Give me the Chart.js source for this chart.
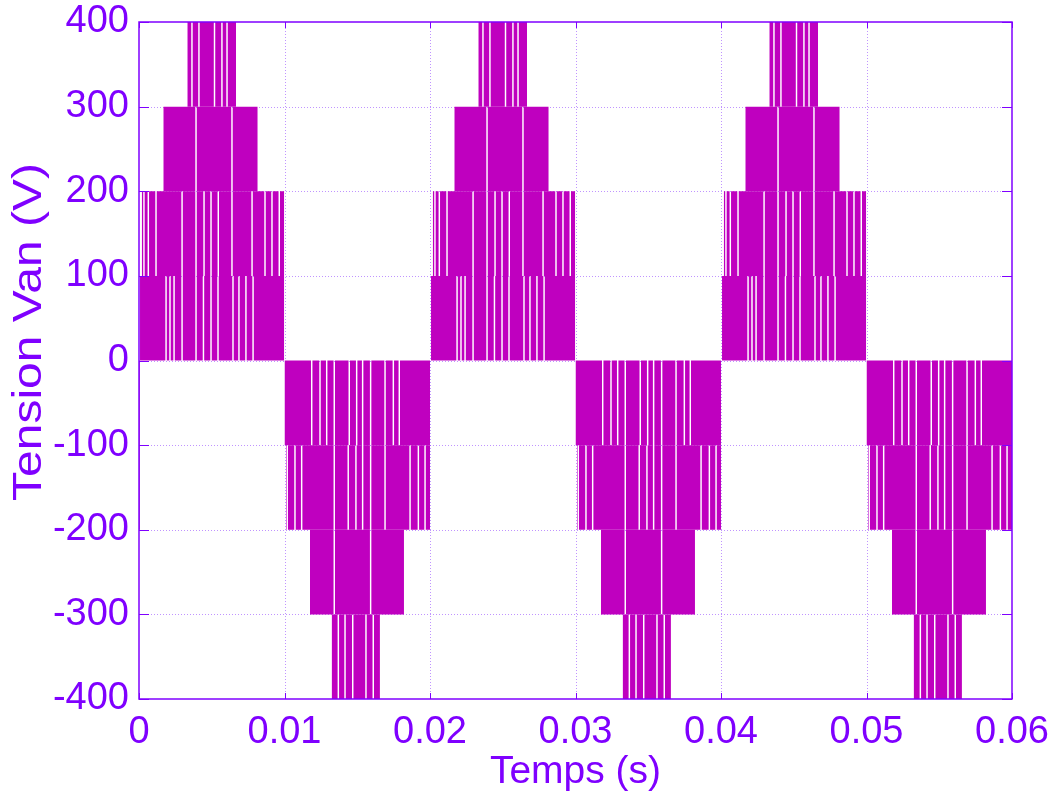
<!DOCTYPE html>
<html>
<head>
<meta charset="utf-8">
<script src="https://cdn.jsdelivr.net/npm/chart.js@4.4.1/dist/chart.umd.min.js"></script>
<style>
  html, body { margin: 0; padding: 0; background: #fff; }
  #wrap { width: 1054px; height: 798px; }
</style>
</head>
<body>
<div id="wrap"><canvas id="c" width="1054" height="798"></canvas></div>
<script>
// three periods of 0.02 s, each: positive half then negative half
const periodStarts = [0, 0.02, 0.04];
const halfPeriod = 0.01;
const levels = [0, 100, 200, 300, 400];

// positive half-cycle, times in ms after the half-cycle start
// band k switches between levels[k] and levels[k+1]
const posBandStart = [0.07, 0.19, 1.67, 3.32];
const posBandEnd = [9.98, 9.98, 8.16, 6.67];
const posGaps = [
  [1.86, 2.13, 2.41, 2.96, 3.92, 4.43, 4.95, 5.43, 6.46, 6.87, 7.35, 7.84],
  [0.34, 0.64, 1.17, 2.96, 3.92, 4.47, 4.95, 5.45, 6.39, 7.77, 8.66, 9.14, 9.64],
  [3.92, 6.39],
  [3.64, 4.12, 5.19, 5.70, 6.05]
];

// negative half-cycle, same layout (levels mirrored)
const negBandStart = [0.0, 0.1, 1.75, 3.24];
const negBandEnd = [10.0, 10.0, 8.21, 6.56];
const negGaps = [
  [1.87, 2.44, 2.90, 3.42, 4.45, 4.96, 5.37, 5.92, 6.91, 7.48, 7.89],
  [0.19, 0.72, 1.18, 3.42, 4.38, 4.91, 5.37, 5.92, 6.91, 8.63, 9.20, 9.66],
  [3.42, 5.92],
  [3.70, 4.16, 4.69, 5.60, 6.10]
];
const gapWidth = 0.1; // ms

// start-up spike at t = 0
const spikeX = [0, 0];
const spikeY = [0, -200];

const xTicks = [0, 0.01, 0.02, 0.03, 0.04, 0.05, 0.06];
const xTickLabels = ['0', '0.01', '0.02', '0.03', '0.04', '0.05', '0.06'];
const yTicks = [-400, -300, -200, -100, 0, 100, 200, 300, 400];
const yTitle = 'Tension Van (V)';

const wave = '#bf00bf';
const ink = '#7f00ff';
const gridColor = 'rgba(140,60,255,0.55)';
const family = '"Liberation Sans", Arial, sans-serif';

function bandPoints(t0, start, end, gaps, hi, lo) {
  const pts = [];
  const s = ms => t0 + ms / 1000;
  pts.push({ x: s(start), y: hi });
  gaps.forEach(g => {
    const a = g - gapWidth / 2, b = g + gapWidth / 2;
    pts.push({ x: s(a), y: hi }, { x: s(a), y: lo }, { x: s(b), y: lo }, { x: s(b), y: hi });
  });
  pts.push({ x: s(end), y: hi });
  return pts;
}

const datasets = [];
periodStarts.forEach(p => {
  for (let k = 0; k < 4; k++) {
    datasets.push({
      data: bandPoints(p, posBandStart[k], posBandEnd[k], posGaps[k], levels[k + 1], levels[k]),
      fill: { value: levels[k] },
      backgroundColor: wave,
      borderColor: 'rgba(0,0,0,0)',
      borderWidth: 0
    });
    datasets.push({
      data: bandPoints(p + halfPeriod, negBandStart[k], negBandEnd[k], negGaps[k], -levels[k + 1], -levels[k]),
      fill: { value: -levels[k] },
      backgroundColor: wave,
      borderColor: 'rgba(0,0,0,0)',
      borderWidth: 0
    });
  }
});
datasets.push({
  data: spikeX.map((x, i) => ({ x, y: spikeY[i] })),
  fill: false,
  borderColor: wave,
  borderWidth: 1.5
});

// MATLAB style frame: dotted grid under data, box and inward ticks on top
const framePlugin = {
  id: 'frame',
  beforeDatasetsDraw(chart) {
    const { ctx, chartArea: a, scales: { x, y } } = chart;
    ctx.save();
    ctx.strokeStyle = gridColor;
    ctx.lineWidth = 1;
    ctx.setLineDash([1, 2]);
    xTicks.slice(1, -1).forEach(v => {
      const px = Math.round(x.getPixelForValue(v)) + 0.5;
      ctx.beginPath(); ctx.moveTo(px, a.top); ctx.lineTo(px, a.bottom); ctx.stroke();
    });
    yTicks.slice(1, -1).forEach(v => {
      const py = Math.round(y.getPixelForValue(v)) + 0.5;
      ctx.beginPath(); ctx.moveTo(a.left, py); ctx.lineTo(a.right, py); ctx.stroke();
    });
    ctx.restore();
  },
  afterDatasetsDraw(chart) {
    const { ctx, chartArea: a, scales: { x, y } } = chart;
    ctx.save();
    ctx.strokeStyle = ink;
    ctx.lineWidth = 1.5;
    ctx.strokeRect(a.left, a.top, a.right - a.left, a.bottom - a.top);
    ctx.lineWidth = 1;
    ctx.beginPath();
    xTicks.forEach(v => {
      const px = Math.round(x.getPixelForValue(v)) + 0.5;
      ctx.moveTo(px, a.bottom); ctx.lineTo(px, a.bottom - 6);
      ctx.moveTo(px, a.top); ctx.lineTo(px, a.top + 6);
    });
    yTicks.forEach(v => {
      const py = Math.round(y.getPixelForValue(v)) + 0.5;
      ctx.moveTo(a.left, py); ctx.lineTo(a.left + 10, py);
      ctx.moveTo(a.right, py); ctx.lineTo(a.right - 10, py);
    });
    ctx.stroke();

    // y title, a little stretched along its length like the original export
    ctx.translate(30, 332);
    ctx.rotate(-Math.PI / 2);
    ctx.scale(1.2, 1);
    ctx.fillStyle = ink;
    ctx.font = '40px ' + family;
    ctx.textAlign = 'center';
    ctx.textBaseline = 'middle';
    ctx.fillText(yTitle, 0, 0);
    ctx.restore();
  }
};

const font = { family, size: 38 };

new Chart(document.getElementById('c'), {
  type: 'line',
  data: { datasets },
  options: {
    responsive: false,
    animation: false,
    layout: { padding: { top: 22, right: 42, left: 0, bottom: 0 } },
    elements: { point: { radius: 0 }, line: { tension: 0 } },
    plugins: { legend: { display: false }, tooltip: { enabled: false } },
    scales: {
      x: {
        type: 'linear',
        min: 0,
        max: 0.06,
        afterBuildTicks: s => { s.ticks = xTicks.map(v => ({ value: v })); },
        afterFit: s => { s.height = 99; s.paddingLeft = 0; s.paddingRight = 0; },
        grid: { display: false, drawTicks: false },
        border: { display: false },
        ticks: {
          color: ink, font, padding: 11, maxRotation: 0, autoSkip: false,
          callback: (v, i) => xTickLabels[i]
        },
        title: { display: true, text: 'Temps (s)', color: ink, font: { family, size: 39 }, padding: { top: 0, bottom: 2 } }
      },
      y: {
        type: 'linear',
        min: -400,
        max: 400,
        afterBuildTicks: s => { s.ticks = yTicks.map(v => ({ value: v })); },
        afterFit: s => { s.width = 139; s.paddingTop = 0; s.paddingBottom = 0; },
        grid: { display: false, drawTicks: false },
        border: { display: false },
        ticks: { color: ink, font, padding: 10, autoSkip: false },
        title: { display: false }
      }
    }
  },
  plugins: [framePlugin]
});
</script>
</body>
</html>
